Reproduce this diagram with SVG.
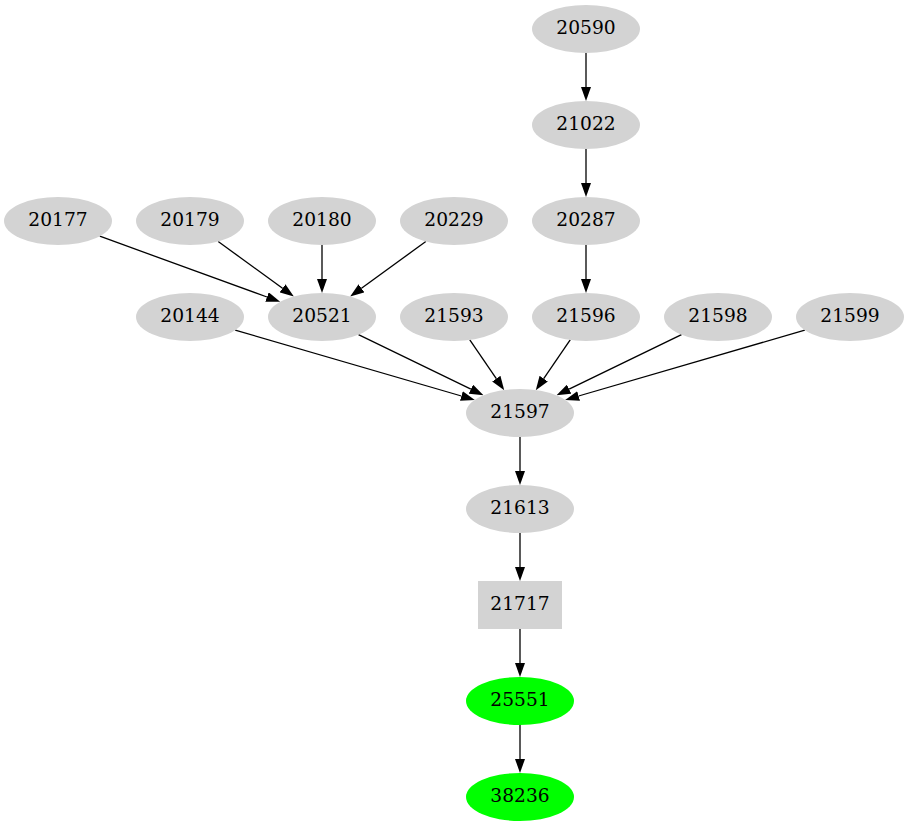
<svg xmlns="http://www.w3.org/2000/svg" width="910" height="827" viewBox="0 0 910 827">
<style>
.n ellipse, .n rect { fill: #d3d3d3; stroke: none; }
.g ellipse { fill: #00ff00; stroke: none; }
text { font-family: "DejaVu Serif", "Liberation Serif", serif; font-size: 18.67px; fill: #000; text-anchor: middle; }
#edges line { stroke: #000; stroke-width: 1.3; fill: none; marker-end: url(#arr); }
</style>
<defs>
<marker id="arr" markerUnits="userSpaceOnUse" markerWidth="14" markerHeight="10" refX="0" refY="5" orient="auto">
<path d="M0,0 L14,5 L0,10 z" fill="#000"/>
</marker>
</defs>
<rect width="910" height="827" fill="#fff"/>
<g id="edges">
<line x1="586" y1="53" x2="586" y2="87"/>
<line x1="586" y1="149" x2="586" y2="183"/>
<line x1="586" y1="245" x2="586" y2="279"/>
<line x1="99.8" y1="236.2" x2="267.0" y2="297.0"/>
<line x1="218.2" y1="241.5" x2="282.5" y2="288.3"/>
<line x1="322" y1="245" x2="322" y2="279"/>
<line x1="425.8" y1="241.5" x2="361.5" y2="288.3"/>
<line x1="235.2" y1="330.1" x2="461.4" y2="396.0"/>
<line x1="358.5" y1="334.7" x2="470.9" y2="389.2"/>
<line x1="469.8" y1="339.9" x2="496.3" y2="378.6"/>
<line x1="570.2" y1="339.9" x2="543.7" y2="378.6"/>
<line x1="681.5" y1="334.7" x2="569.1" y2="389.2"/>
<line x1="804.8" y1="330.1" x2="578.6" y2="396.0"/>
<line x1="520" y1="437" x2="520" y2="471"/>
<line x1="520" y1="533" x2="520" y2="567"/>
<line x1="520" y1="629" x2="520" y2="663"/>
<line x1="520" y1="725" x2="520" y2="759"/>
</g>
<g id="n20590" class="n"><ellipse cx="586" cy="29" rx="54" ry="24"/><text x="586" y="34">20590</text></g>
<g id="n21022" class="n"><ellipse cx="586" cy="125" rx="54" ry="24"/><text x="586" y="130">21022</text></g>
<g id="n20177" class="n"><ellipse cx="58" cy="221" rx="54" ry="24"/><text x="58" y="226">20177</text></g>
<g id="n20179" class="n"><ellipse cx="190" cy="221" rx="54" ry="24"/><text x="190" y="226">20179</text></g>
<g id="n20180" class="n"><ellipse cx="322" cy="221" rx="54" ry="24"/><text x="322" y="226">20180</text></g>
<g id="n20229" class="n"><ellipse cx="454" cy="221" rx="54" ry="24"/><text x="454" y="226">20229</text></g>
<g id="n20287" class="n"><ellipse cx="586" cy="221" rx="54" ry="24"/><text x="586" y="226">20287</text></g>
<g id="n20144" class="n"><ellipse cx="190" cy="317" rx="54" ry="24"/><text x="190" y="322">20144</text></g>
<g id="n20521" class="n"><ellipse cx="322" cy="317" rx="54" ry="24"/><text x="322" y="322">20521</text></g>
<g id="n21593" class="n"><ellipse cx="454" cy="317" rx="54" ry="24"/><text x="454" y="322">21593</text></g>
<g id="n21596" class="n"><ellipse cx="586" cy="317" rx="54" ry="24"/><text x="586" y="322">21596</text></g>
<g id="n21598" class="n"><ellipse cx="718" cy="317" rx="54" ry="24"/><text x="718" y="322">21598</text></g>
<g id="n21599" class="n"><ellipse cx="850" cy="317" rx="54" ry="24"/><text x="850" y="322">21599</text></g>
<g id="n21597" class="n"><ellipse cx="520" cy="413" rx="54" ry="24"/><text x="520" y="418">21597</text></g>
<g id="n21613" class="n"><ellipse cx="520" cy="509" rx="54" ry="24"/><text x="520" y="514">21613</text></g>
<g id="n21717" class="n"><rect x="478" y="581" width="84" height="48"/><text x="520" y="610">21717</text></g>
<g id="n25551" class="g"><ellipse cx="520" cy="701" rx="54" ry="24"/><text x="520" y="706">25551</text></g>
<g id="n38236" class="g"><ellipse cx="520" cy="797" rx="54" ry="24"/><text x="520" y="802">38236</text></g>
</svg>
